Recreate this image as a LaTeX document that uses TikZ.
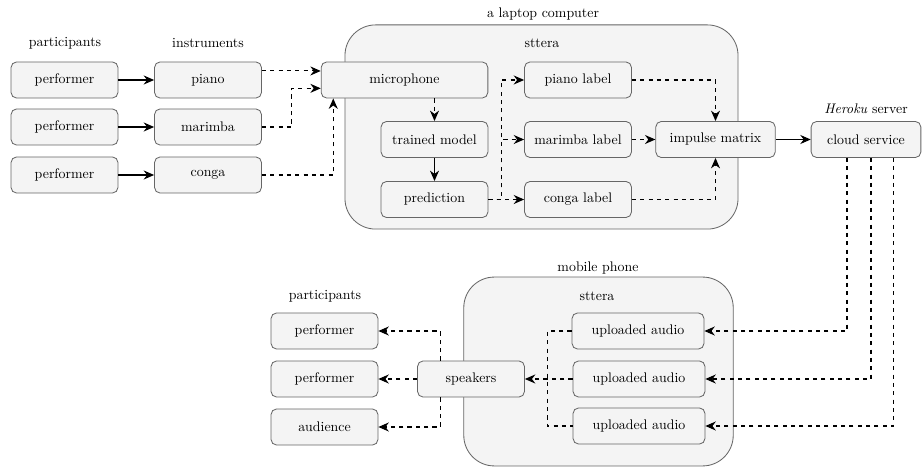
\documentclass[tikz,border=0pt]{standalone}
\usepackage{amsmath, amsfonts}
\usetikzlibrary{arrows.meta, positioning}
\usepackage[dvipsnames]{xcolor}

\definecolor{boxfill}{HTML}{F4F4F4}
\definecolor{boxline}{HTML}{666666}

\begin{document}
\begin{tikzpicture}[x=0.72pt, y=-0.72pt, >={Stealth[length=7.5pt, width=6.5pt]},
	box/.style={draw=boxline, fill=boxfill, line width=0.6pt, rounded corners=4pt, minimum width=77pt, minimum height=26pt, inner sep=0pt},
	container/.style={draw=boxline, fill=boxfill, line width=0.6pt, rounded corners=22pt},
	flow/.style={->, line width=0.75pt},
	cue/.style={->, line width=0.75pt, dashed}]
			\useasboundingbox (0,0) rectangle (922,467);
			
			% Containers
			\node[container, minimum width=283pt, minimum height=147pt] (laptop) at (541.5,127) {};
			\node[container, minimum width=194pt, minimum height=136pt] (phone) at (598.5,371.5) {};
			
			% Headings
			\node (lblpart) at (65,43) {participants};
			\node (lblinst) at (208,43) {instruments};
			\node (lbllaptop) at (543,14) {a laptop computer};
			\node (lblapp) at (542,43) {sttera};
			\node (lblserver) at (866,109) {\textit{Heroku} server};
			\node (lblphone) at (598,268) {mobile phone};
			\node (lblphoneapp) at (597,296) {sttera};
			\node (lblpartb) at (325,296) {participants};
			
			% Recording side
			\node[box] (perf1) at (64.5,80) {performer};
			\node[box] (perf2) at (64.5,127) {performer};
			\node[box] (perf3) at (64.5,175) {performer};
			\node[box] (piano) at (208,80) {piano};
			\node[box] (marimba) at (208,127) {marimba};
			\node[box] (conga) at (208,175) {conga};
			\node[box, minimum width=120pt] (mic) at (404.5,80) {microphone};
			\node[box] (model) at (434.5,139.5) {trained model};
			\node[box] (pred) at (434.5,199.5) {prediction};
			\node[box] (pianolbl) at (578,80) {piano label};
			\node[box] (marimbalbl) at (578,139.5) {marimba label};
			\node[box] (congalbl) at (578,199.5) {conga label};
			\node[box, minimum width=86pt] (impulse) at (715.5,139.5) {impulse matrix};
			\node[box, minimum width=79pt] (cloud) at (866,139.5) {cloud service};
			
			% Playback side
			\node[box] (listen1) at (324.5,331) {performer};
			\node[box] (listen2) at (324.5,379) {performer};
			\node[box] (audience) at (324.5,427) {audience};
			\node[box] (speakers) at (471,379) {speakers};
			\node[box, minimum width=95pt] (audio1) at (638,331) {uploaded audio};
			\node[box, minimum width=95pt] (audio2) at (639,379) {uploaded audio};
			\node[box, minimum width=95pt] (audio3) at (639,426) {uploaded audio};
			
			% Edges into the laptop
			\draw[flow] (perf1) -- (piano);
			\draw[flow] (perf2) -- (marimba);
			\draw[flow] (perf3) -- (conga);
			\draw[cue] ([yshift=6.5pt]piano.east) -- ([yshift=6.5pt]mic.west);
			\draw[cue] (marimba.east) -- ++(30,0) |- ([yshift=-6pt]mic.west);
			\draw[cue] (conga.east) -| ([xshift=9pt]mic.south west);
			
			% Edges inside sttera
			\draw[cue] (mic.south -| model.north) -- (model.north);
			\draw[flow] (model) -- (pred);
			\draw[cue] (pred) -- (congalbl);
			\draw[cue] (pred.east) -- ++(13,0) |- (pianolbl.west);
			\draw[cue] (pred.east) -- ++(13,0) |- (marimbalbl.west);
			\draw[cue] (pianolbl) -| (impulse);
			\draw[cue] (marimbalbl) -- (impulse);
			\draw[cue] (congalbl) -| (impulse);
			\draw[flow] (impulse) -- (cloud);
			
			% Edges from the server
			\draw[cue] ([xshift=-13.7pt]cloud.south) |- (audio1);
			\draw[cue] ([xshift=3.6pt]cloud.south) |- (audio2);
			\draw[cue] ([xshift=20pt]cloud.south) |- (audio3);
			
			% Edges to the listeners
			\draw[line width=0.75pt, dashed] (audio1.west) -- ++(-24,0) |- (audio3.west);
			\draw[cue] (audio2) -- (speakers);
			\draw[cue] ([xshift=-22pt]speakers.north) |- (listen1);
			\draw[cue] (speakers) -- (listen2);
			\draw[cue] ([xshift=-22pt]speakers.south) |- (audience);
		\end{tikzpicture}
\end{document}
